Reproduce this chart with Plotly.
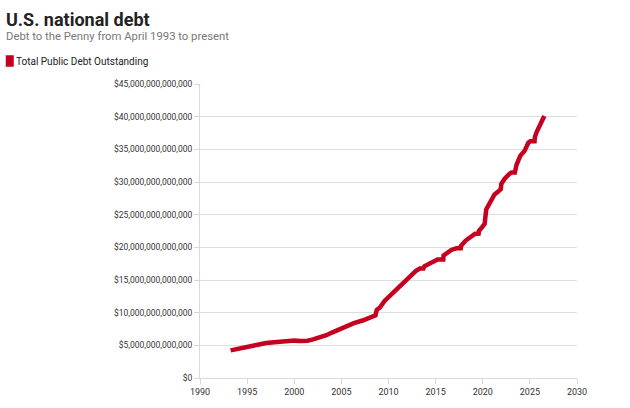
import plotly.graph_objects as go

# Values (trillions of dollars)
dates = [
    "1993-04-01", "1994-01-01", "1995-01-01", "1996-01-01", "1997-01-01",
    "1998-01-01", "1998-07-01", "1999-06-01", "2000-01-01", "2000-09-01",
    "2001-06-01", "2002-01-01", "2002-06-01", "2003-06-01", "2004-01-01",
    "2005-01-01", "2006-01-01", "2006-05-01", "2007-04-01", "2008-01-01",
    "2008-06-01", "2008-08-15", "2008-10-01", "2009-02-01", "2009-08-01",
    "2010-03-01", "2010-11-01", "2011-06-01", "2011-11-01", "2012-04-01",
    "2012-12-01", "2013-05-01", "2013-09-15", "2013-10-20", "2014-08-01",
    "2015-03-15", "2015-10-25", "2015-11-05", "2016-09-01", "2017-03-15",
    "2017-09-01", "2017-09-10", "2018-03-01", "2018-08-01", "2019-03-01",
    "2019-07-25", "2019-08-05", "2020-01-01", "2020-03-15", "2020-05-15",
    "2020-10-15", "2021-04-01", "2021-07-30", "2021-12-01", "2021-12-20",
    "2022-05-01", "2022-11-15", "2023-01-20", "2023-05-30", "2023-06-10",
    "2023-08-01", "2023-12-25", "2024-06-15", "2024-11-01", "2025-01-20",
    "2025-07-01", "2025-07-15", "2025-09-15", "2026-02-01", "2026-05-01",
    "2026-07-15",
]
debt_trillions = [
    4.23, 4.50, 4.79, 5.05, 5.35,
    5.50, 5.55, 5.62, 5.72, 5.67,
    5.70, 5.90, 6.07, 6.55, 6.95,
    7.60, 8.15, 8.40, 8.80, 9.20,
    9.45, 9.60, 10.40, 10.80, 11.80,
    12.60, 13.70, 14.35, 14.95, 15.60,
    16.40, 16.75, 16.75, 17.10, 17.70,
    18.15, 18.15, 18.75, 19.60, 19.85,
    19.85, 20.20, 21.00, 21.50, 22.05,
    22.10, 22.50, 23.20, 23.60, 25.80,
    27.00, 28.10, 28.45, 28.90, 29.70,
    30.50, 31.30, 31.45, 31.45, 32.00,
    32.60, 34.00, 34.80, 36.00, 36.25,
    36.25, 36.90, 37.60, 38.60, 39.30,
    40.10,
]
debt = [v * 1e12 for v in debt_trillions]

title_text = "U.S. national debt"
subtitle_text = "Debt to the Penny from April 1993 to present"
series_name = "Total Public Debt Outstanding"
line_color = "#c6001f"

x_ticks = ["1990-01-01", "1995-01-01", "2000-01-01", "2005-01-01", "2010-01-01",
           "2015-01-01", "2020-01-01", "2025-01-01", "2030-01-01"]
x_labels = ["1990", "1995", "2000", "2005", "2010", "2015", "2020", "2025", "2030"]

fig = go.Figure()
fig.add_trace(go.Scatter(
    x=dates, y=debt, mode="lines", name=series_name,
    line=dict(color=line_color, width=4.5),
    showlegend=False,
))

font_family = "Roboto, Arial, sans-serif"
PW, PH = 377, 294  # plot area size in px
L, T = 200, 84


def px(x):
    return (x - L) / PW


def py(y):
    return 1 + (T - y) / PH


fig.update_layout(
    width=630, height=408,
    margin=dict(l=L, r=630 - L - PW, t=T, b=408 - T - PH),
    paper_bgcolor="white", plot_bgcolor="white",
    font=dict(family=font_family, color="#333333"),
    xaxis=dict(
        type="date",
        range=["1990-01-01", "2030-01-01"],
        tickvals=x_ticks, ticktext=x_labels,
        showgrid=False, zeroline=False,
        showline=True, linecolor="#d9d9d9", linewidth=1,
        ticks="outside", ticklen=5, tickcolor="#d9d9d9",
        tickfont=dict(size=9, color="#333333"),
    ),
    yaxis=dict(
        range=[0, 45e12], dtick=5e12, tick0=0,
        tickformat=",.0f", tickprefix="$",
        showgrid=True, gridcolor="#dddddd", gridwidth=1,
        zeroline=False,
        showline=True, linecolor="#d9d9d9", linewidth=1,
        ticks="outside", ticklen=5, tickcolor="#d9d9d9",
        tickfont=dict(size=8.5, color="#333333"),
    ),
    annotations=[
        dict(text="<b>" + title_text + "</b>", xref="paper", yref="paper",
             x=px(4), y=py(19), xanchor="left", yanchor="middle",
             showarrow=False, font=dict(size=18, color="#222222", family=font_family)),
        dict(text=subtitle_text, xref="paper", yref="paper",
             x=px(4), y=py(36), xanchor="left", yanchor="middle",
             showarrow=False, font=dict(size=11.3, color="#777777", family=font_family)),
        dict(text=series_name, xref="paper", yref="paper",
             x=px(14), y=py(61.5), xanchor="left", yanchor="middle",
             showarrow=False, font=dict(size=10, color="#222222", family=font_family)),
    ],
    shapes=[
        dict(type="path", xref="paper", yref="paper",
             path="M {x0},{y0} L {x1},{y0} L {x1},{y1} L {x0},{y1} Z".format(
                 x0=px(6.5), x1=px(13), y0=py(66), y1=py(56)),
             fillcolor=line_color, line=dict(color=line_color, width=1.5)),
    ],
)

fig.write_html("out.html", config={"displayModeBar": False},
               post_script="document.body.style.margin='0';")
